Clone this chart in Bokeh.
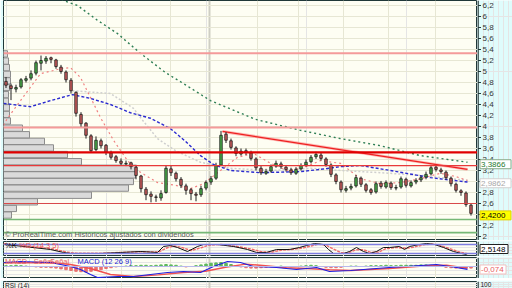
from bokeh.plotting import figure
from bokeh.models import Range1d, FixedTicker, Grid, Span, Label, ColumnDataSource
from bokeh.layouts import column, row
from bokeh.core.properties import value
from bokeh.embed import file_html
from bokeh.resources import INLINE

# ---------------- data ----------------
opens = [4.82, 4.74, 4.68, 4.72, 4.84, 4.88, 4.97, 5.15, 5.19, 5.25,
         5.21, 5.08, 4.99, 4.84, 4.62, 4.22, 4.06, 3.83, 3.58, 3.74,
         3.66, 3.52, 3.45, 3.37, 3.32, 3.34, 3.26, 3.10, 2.86, 2.77,
         2.72, 2.70, 2.80, 3.23, 3.15, 3.04, 2.92, 2.85, 2.77, 2.76,
         2.88, 2.99, 3.06, 3.30, 3.86, 3.74, 3.61, 3.50, 3.56, 3.52,
         3.41, 3.24, 3.15, 3.19, 3.28, 3.32, 3.26, 3.21, 3.15, 3.23,
         3.30, 3.36, 3.45, 3.48, 3.41, 3.30, 3.12, 2.99, 2.84, 2.88,
         2.92, 3.06, 2.94, 2.85, 2.81, 2.97, 2.90, 2.97, 2.88, 2.90,
         3.04, 2.92, 2.99, 3.03, 3.08, 3.14, 3.26, 3.21, 3.17, 3.06,
         2.95, 2.83, 2.79, 2.57]
closes = [4.75, 4.69, 4.71, 4.85, 4.87, 4.96, 5.16, 5.20, 5.24, 5.22,
          5.09, 5.00, 4.85, 4.65, 4.24, 4.05, 3.84, 3.56, 3.75, 3.65,
          3.53, 3.44, 3.38, 3.33, 3.33, 3.27, 3.11, 2.87, 2.76, 2.73,
          2.71, 2.78, 3.24, 3.16, 3.05, 2.93, 2.84, 2.78, 2.75, 2.87,
          2.98, 3.05, 3.29, 3.84, 3.75, 3.62, 3.51, 3.55, 3.53, 3.42,
          3.25, 3.16, 3.18, 3.27, 3.33, 3.27, 3.22, 3.16, 3.22, 3.29,
          3.35, 3.44, 3.49, 3.42, 3.31, 3.13, 3.00, 2.85, 2.87, 2.91,
          3.07, 2.95, 2.84, 2.80, 2.96, 2.91, 2.98, 2.89, 2.89, 3.05,
          2.93, 2.98, 3.02, 3.07, 3.13, 3.25, 3.22, 3.18, 3.07, 2.96,
          2.84, 2.80, 2.58, 2.42]
highs = [4.90, 4.78, 4.76, 4.88, 4.92, 5.02, 5.20, 5.29, 5.28, 5.27,
         5.23, 5.12, 5.02, 4.88, 4.64, 4.26, 4.08, 3.86, 3.82, 3.78,
         3.68, 3.56, 3.48, 3.42, 3.38, 3.36, 3.30, 3.12, 2.90, 2.82,
         2.76, 2.84, 3.30, 3.28, 3.18, 3.08, 2.96, 2.88, 2.81, 2.92,
         3.02, 3.10, 3.34, 3.92, 3.90, 3.78, 3.64, 3.60, 3.60, 3.56,
         3.44, 3.28, 3.23, 3.31, 3.38, 3.36, 3.30, 3.25, 3.26, 3.33,
         3.40, 3.48, 3.54, 3.52, 3.44, 3.33, 3.15, 3.02, 2.92, 2.96,
         3.12, 3.09, 2.97, 2.88, 3.00, 3.01, 3.02, 3.00, 2.94, 3.09,
         3.07, 3.02, 3.06, 3.11, 3.18, 3.30, 3.30, 3.25, 3.20, 3.09,
         2.98, 2.86, 2.82, 2.60]
lows = [4.70, 4.48, 4.62, 4.69, 4.80, 4.84, 4.93, 5.02, 5.14, 5.15,
        5.05, 4.96, 4.80, 4.60, 4.18, 3.98, 3.78, 3.52, 3.55, 3.60,
        3.48, 3.40, 3.34, 3.30, 3.28, 3.22, 3.04, 2.80, 2.66, 2.62,
        2.63, 2.65, 2.78, 3.10, 3.00, 2.88, 2.76, 2.66, 2.64, 2.72,
        2.84, 2.94, 3.03, 3.28, 3.70, 3.58, 3.46, 3.47, 3.48, 3.38,
        3.20, 3.12, 3.12, 3.16, 3.25, 3.23, 3.18, 3.12, 3.12, 3.20,
        3.27, 3.33, 3.41, 3.38, 3.27, 3.08, 2.95, 2.80, 2.80, 2.84,
        2.89, 2.90, 2.80, 2.76, 2.78, 2.87, 2.87, 2.85, 2.84, 2.87,
        2.89, 2.89, 2.95, 2.99, 3.04, 3.11, 3.18, 3.14, 3.03, 2.91,
        2.80, 2.74, 2.54, 2.38]

# moving averages (candle index, price)
ma_long_idx = [6.9, 11.5, 14.3, 18.3, 22.3, 26.9, 31.9, 35.5, 40.9, 49.9, 58.9, 66.9, 74.9, 82.9, 92.3]
ma_long_val = [6.56, 6.29, 6.20, 5.93, 5.69, 5.33, 4.98, 4.78, 4.47, 4.13, 3.93, 3.78, 3.65, 3.47, 3.35]
ma_mid_idx = [-0.5, 4.9, 8.9, 13.3, 16.9, 20.9, 24.9, 28.9, 32.9, 35.9, 38.9, 41.5, 44.9, 50.9, 58.9, 62.9, 66.9, 70.9, 76.9, 84.9, 92.3]
ma_mid_val = [4.42, 4.36, 4.47, 4.58, 4.51, 4.40, 4.25, 4.15, 3.96, 3.73, 3.47, 3.31, 3.20, 3.16, 3.18, 3.22, 3.27, 3.29, 3.20, 3.07, 2.99]
ma_grey_idx = [13.3, 20.9, 25.5, 27.0, 30.3, 33.9, 38.9, 44.9, 52.9, 60.9, 66.9, 74.9, 82.9, 92.3]
ma_grey_val = [4.65, 4.60, 4.33, 4.15, 3.78, 3.56, 3.35, 3.24, 3.20, 3.24, 3.20, 3.16, 3.11, 3.02]
ma_short_idx = [-0.5, 0.3, 2.9, 6.9, 10.9, 12.9, 14.9, 16.9, 18.9, 21.5, 24.3, 26.3, 30.3, 33.9, 36.9, 39.5, 42.9, 46.3, 49.5, 52.9, 56.3, 59.5, 62.9, 66.9, 70.9, 74.9, 78.9, 82.9, 86.9, 89.9, 92.3]
ma_short_val = [4.02, 4.15, 4.47, 4.96, 5.05, 5.07, 4.89, 4.53, 4.16, 3.75, 3.38, 3.20, 2.98, 2.93, 2.87, 2.96, 3.20, 3.44, 3.51, 3.33, 3.20, 3.25, 3.38, 3.33, 3.05, 2.96, 2.98, 3.05, 3.15, 3.09, 3.02]

trend_idx = [43.3, 92.3]
trend_val = [3.91, 3.22]

red_levels = [5.33, 3.98, 3.53, 3.29, 2.60]
green_levels = [2.31, 2.07]

vp_price = [2.39, 2.51, 2.63, 2.75, 2.88, 3.00, 3.12, 3.24, 3.36, 3.49, 3.61, 3.73, 3.85, 3.97,
            4.10, 4.22, 4.34, 4.46, 4.58, 4.71, 4.83, 4.95, 5.07, 5.19, 5.32]
vp_volume = [1.6, 2.6, 6.8, 17.6, 25.0, 26.0, 26.4, 26.6, 15.6, 12.8, 10.0, 8.2, 5.2, 3.8,
             1.4, 1.2, 1.2, 1.0, 1.0, 1.2, 1.4, 1.4, 1.2, 1.0, 0.8]

month_idx = [4.7, 13.3, 23.1, 32.9, 50.3, 58.5, 67.5, 76.5, 85.9]
year_idx = [40.7]
price_ticks = [2.0, 2.2, 2.4, 2.6, 2.8, 3.0, 3.2, 3.4, 3.6, 3.8, 4.0, 4.2, 4.4, 4.6, 4.8, 5.0, 5.2, 5.4, 5.6, 5.8, 6.0, 6.2]

last_long = 3.3866
last_mid = 2.9862
last_close = 2.42

stoch_k_idx = [-0.1, 8.9, 11.5, 12.9, 18.9, 22.9, 26.9, 30.3, 31.5, 32.9, 34.3, 36.3, 38.3, 39.5, 42.3, 45.5, 48.3, 50.1, 52.1, 54.1, 56.7, 58.7, 60.1, 61.7, 63.5, 64.5, 65.5, 67.5, 68.7, 70.1, 71.5, 72.7, 74.1, 75.5, 76.7, 78.7, 79.7, 80.7, 82.7, 84.1, 85.7, 87.5, 89.5, 91.1, 92.1]
stoch_k_val = [80, 46.7, 26.7, 20, 20, 26.7, 33.3, 26.7, 66.7, 73.3, 60, 33.3, 66.7, 80, 80, 66.7, 46.7, 26.7, 26.7, 46.7, 46.7, 60, 73.3, 86.7, 80, 46.7, 20, 20, 33.3, 60, 33.3, 20, 33.3, 60, 60, 66.7, 46.7, 66.7, 80, 86.7, 80, 60, 33.3, 20, 13.3]
stoch_d_idx = [-0.5, 3, 9.5, 12, 14, 19, 23, 27, 30.5, 32, 33.5, 35, 37, 39, 40.5, 43, 46, 49, 51, 53, 55, 57.5, 59.5, 61, 62.5, 64, 65.5, 67, 68.5, 70, 71.5, 73, 74.5, 76, 78, 80, 81.5, 83.5, 85, 86.5, 88.5, 90.5, 92.3]
stoch_d_val = [85, 75, 50, 30, 22, 22, 27, 32, 30, 55, 70, 62, 40, 58, 75, 80, 68, 50, 32, 28, 42, 48, 58, 70, 82, 75, 50, 25, 25, 45, 45, 27, 30, 52, 60, 55, 62, 78, 83, 78, 55, 32, 18]
stoch_levels = [20, 80]
stoch_value = "2,5148"

macd_idx = [-0.5, 2.9, 8.9, 12.9, 14.9, 16.9, 18.3, 22.3, 25.5, 28.9, 32.3, 35.5, 38.9, 41.5, 44.3, 46.9, 49.5, 54.1, 58.1, 62.1, 64.7, 68.9, 76.7, 86.1, 90.1, 92.3]
macd_val = [0.10, 0.125, 0.10, 0.0, -0.075, -0.2, -0.275, -0.25, -0.25, -0.2, -0.15, -0.125, -0.15, 0.0, 0.125, 0.10, 0.0, -0.025, -0.075, -0.025, -0.125, -0.1, -0.025, 0.05, -0.025, -0.074]
signal_idx = [-0.5, 8.9, 12.9, 16.9, 20.9, 25.5, 30.5, 35.5, 39.9, 43.9, 47.9, 51.9, 56.1, 60.1, 64.7, 68.9, 76.7, 84.1, 88.1, 92.3]
signal_val = [0.09, 0.10, 0.05, -0.05, -0.2, -0.25, -0.21, -0.15, -0.12, -0.02, 0.06, 0.02, -0.03, -0.05, -0.08, -0.1, -0.05, 0.02, 0.03, -0.04]
macd_hist = [0.02, 0.02, 0.03, 0.02, 0.01,
             0.0, -0.01, -0.02, -0.02, -0.03, -0.04,
             -0.06, -0.08, -0.1, -0.12, -0.13, -0.14, -0.12, -0.1, -0.08, -0.05,
             -0.03, -0.01, 0.0, 0.01, 0.02, 0.02, 0.03, 0.03, 0.02,
             0.03, 0.04, 0.05, 0.04, 0.03, 0.01, -0.01, 0.0, 0.02, 0.04, 0.06,
             0.08, 0.09, 0.1, 0.08, 0.05, 0.02, -0.01, -0.03, -0.04, -0.04,
             -0.03, -0.02, -0.01, 0.0, 0.01, 0.0, -0.01, 0.0, 0.01, 0.02,
             0.03, 0.02, 0.0, -0.02, -0.03, -0.03, -0.02, 0.0, 0.01, 0.01,
             0.0, 0.01, 0.02, 0.02, 0.02, 0.03, 0.02, 0.02, 0.03, 0.03,
             0.03, 0.03, 0.04, 0.04, 0.03, 0.02, 0.0, -0.02, -0.03, -0.04, -0.04, -0.04, -0.04]
macd_last = -0.074

credit = "\u00a9 ProRealTime.com  Hist\u00f3ricos ajustados con dividendos"

# ---------------- style ----------------
BG = "#fefef3"
CYAN = "#dffcfc"
GRIDC = "#e7e7d4"
EDGE = "#203838"
FONT = "Liberation Sans"
n = len(closes)
assert len(opens) == n and len(highs) == n and len(lows) == n and len(macd_hist) == n

xr = Range1d(-0.5, 94.3)
xr_axis = Range1d(-0.5, 34.5)


def make(height, yr, top):
    f = figure(width=477, height=height, x_range=xr, y_range=yr, output_backend="svg",
               toolbar_location=None, title=None, x_axis_location=None, y_axis_location=None,
               min_border_left=3, min_border_right=0, min_border_top=top, min_border_bottom=0)
    f.background_fill_color = BG
    f.border_fill_color = CYAN
    f.outline_line_color = EDGE
    f.outline_line_width = 1
    f.add_layout(Grid(dimension=0, ticker=FixedTicker(ticks=month_idx), grid_line_color=GRIDC, grid_line_width=1))
    f.add_layout(Grid(dimension=0, ticker=FixedTicker(ticks=year_idx), grid_line_color="#cfcfc4", grid_line_width=2))
    return f


def make_axis(height, yr, top):
    a = figure(width=35, height=height, x_range=xr_axis, y_range=yr, output_backend="svg",
               toolbar_location=None, title=None, x_axis_location=None, y_axis_location=None,
               min_border_left=0, min_border_right=0, min_border_top=top, min_border_bottom=0)
    a.background_fill_color = CYAN
    a.border_fill_color = CYAN
    a.outline_line_color = None
    a.add_layout(Span(location=0, dimension="height", line_color=EDGE, line_width=1.5))
    return a


def vboxes(fig, ys, texts, tcs, bgs, bcs, w=30):
    fig.rect(x=[2.0 + w / 2] * len(ys), y=ys, width=w, height=9, height_units="screen",
             fill_color=bgs, line_color=bcs, line_width=1)
    fig.text(x=[3.0] * len(ys), y=ys, text=texts, text_font=value(FONT), text_font_size="8px",
             text_color=tcs, text_baseline="middle")


fmt4 = lambda v: ("%.4f" % v).replace(".", ",")

# ---------------- main price panel ----------------
PX = 55.0  # pixels per price unit in the main panel
main_yr = Range1d(1.927, 6.291)
p = make(240, main_yr, 0)
p.add_layout(Grid(dimension=1, ticker=FixedTicker(ticks=price_ticks), grid_line_color=GRIDC, grid_line_width=1))

# volume profile
p.hbar(y=vp_price, left=-0.5, right=[-0.5 + v for v in vp_volume], height=0.115,
       fill_color="#dadada", line_color="#8c8c8c", line_width=1)

# horizontal levels
lev_styles = [("#f49a9a", 2), ("#f49a9a", 2), ("#e00000", 2.2), ("#e83a3a", 1.3), ("#d84848", 1)]
for lv, (c, w) in zip(red_levels, lev_styles):
    p.add_layout(Span(location=lv, dimension="width", line_color=c, line_width=w))
for lv in green_levels:
    p.add_layout(Span(location=lv, dimension="width", line_color="#76b876", line_width=1.6))

# moving averages
p.line(ma_grey_idx, ma_grey_val, line_color="#cfcfcf", line_width=1.5, line_dash="2 2")
p.line(ma_short_idx, ma_short_val, line_color="#f08080", line_width=1.2, line_dash="2 3")
p.line(ma_mid_idx, ma_mid_val, line_color="#2a2ad0", line_width=1.4, line_dash="3 2")
p.line(ma_long_idx, ma_long_val, line_color="#2f7f55", line_width=1.4, line_dash="2 3")

# trend line
p.line(trend_idx, trend_val, line_color="#ff8c8c", line_width=3, line_alpha=0.6)
p.line(trend_idx, trend_val, line_color="#ee2020", line_width=1.2)

# candles
idx = list(range(n))
cols = ["#47a947" if c >= o else "#c85a5a" for o, c in zip(opens, closes)]
src = ColumnDataSource(dict(x=idx, o=opens, c=closes, h=highs, l=lows,
                            top=[max(a, b) for a, b in zip(opens, closes)],
                            bot=[min(a, b) for a, b in zip(opens, closes)], col=cols))
p.segment(x0="x", y0="l", x1="x", y1="h", source=src, line_color="#202020", line_width=1)
p.vbar(x="x", top="top", bottom="bot", width=0.5, source=src, fill_color="col", line_color="#202020", line_width=0.8)

p.add_layout(Label(x=-0.2, y=1.95, text=credit, text_font=FONT, text_font_size="7.5px",
                   text_color="#5a5a5a", text_baseline="bottom"))

# price axis strip
pa = make_axis(240, main_yr, 0)
pa.segment(x0=0, x1=3, y0=price_ticks, y1=price_ticks, line_color=EDGE, line_width=1)
pa.text(x=4.5, y=price_ticks, text=[("%g" % t).replace(".", ",") for t in price_ticks],
        text_font=value(FONT), text_font_size="8px", text_color="#333333", text_baseline="middle")
box_vals = [last_long, last_mid, last_close]
box_shift_px = [-4, -1, -2]
vboxes(pa, [v + d / PX for v, d in zip(box_vals, box_shift_px)], [fmt4(v) for v in box_vals],
       ["#1f7a2f", "#a8a8a8", "#000000"], ["#ffffff", "#ffffff", "#ffff00"],
       ["#88aa88", "#d0d0d0", "#e0d000"], w=31)

# ---------------- stochastic panel ----------------
st_yr = Range1d(0, 100)
s = make(16, st_yr, 1)
for lv in stoch_levels:
    s.add_layout(Span(location=lv, dimension="width", line_color="#7c7ce0", line_width=1.5))
s.line(stoch_d_idx, stoch_d_val, line_color="#f06a6a", line_width=1.4, line_dash="3 1")
s.line(stoch_k_idx, stoch_k_val, line_color="#101010", line_width=1)
s.add_layout(Label(x=-0.2, y=72, text="%K", text_font=FONT, text_font_size="7.5px", text_color="#000000", text_baseline="middle"))
s.add_layout(Label(x=2.6, y=72, text="%D (14 3 5)", text_font=FONT, text_font_size="7.5px", text_color="#f05a5a", text_baseline="middle"))
sa = make_axis(16, st_yr, 1)
vboxes(sa, [50], [stoch_value], ["#000000"], ["#ffffff"], ["#202020"], w=28)

# ---------------- MACD panel ----------------
m_yr = Range1d(-0.3, 0.225)
m = make(22, m_yr, 1)
m.add_layout(Span(location=0, dimension="width", line_color="#b8b8ec", line_width=1))
m.vbar(x=idx, top=macd_hist, bottom=0, width=0.5,
       color=["#5cb85c" if v >= 0 else "#e87070" for v in macd_hist])
m.line(signal_idx, signal_val, line_color="#f05050", line_width=1.4)
m.line(macd_idx, macd_val, line_color="#2020e0", line_width=1.2)
m.add_layout(Label(x=-0.2, y=0.125, text="MACD - Se\u00f1al", text_font=FONT, text_font_size="7.5px", text_color="#e86060", text_baseline="middle"))
m.add_layout(Label(x=8.8, y=0.125, text="Se\u00f1al", text_font=FONT, text_font_size="7.5px", text_color="#e86060", text_baseline="middle"))
m.add_layout(Label(x=14.3, y=0.125, text="MACD (12 26 9)", text_font=FONT, text_font_size="7.5px", text_color="#2020d0", text_baseline="middle"))
ma_ = make_axis(22, m_yr, 1)
vboxes(ma_, [macd_last], [("%.3f" % macd_last).replace(".", ",")], ["#e86060"], ["#ffffff"], ["#f0c0c0"], w=26)

# ---------------- RSI panel (cut) ----------------
r_yr = Range1d(60, 103)
r = make(10, r_yr, 1)
r.add_layout(Label(x=-0.2, y=103, text="RSI (14)", text_font=FONT, text_font_size="6.5px", text_color="#202020", text_baseline="top"))
ra = make_axis(10, r_yr, 1)
ra.add_layout(Label(x=2.5, y=103, text="100", text_font=FONT, text_font_size="6.5px", text_color="#202020", text_baseline="top"))

layout = column(row(p, pa, spacing=0), row(s, sa, spacing=0), row(m, ma_, spacing=0), row(r, ra, spacing=0), spacing=0)
open("out.html", "w").write(file_html(layout, INLINE))
